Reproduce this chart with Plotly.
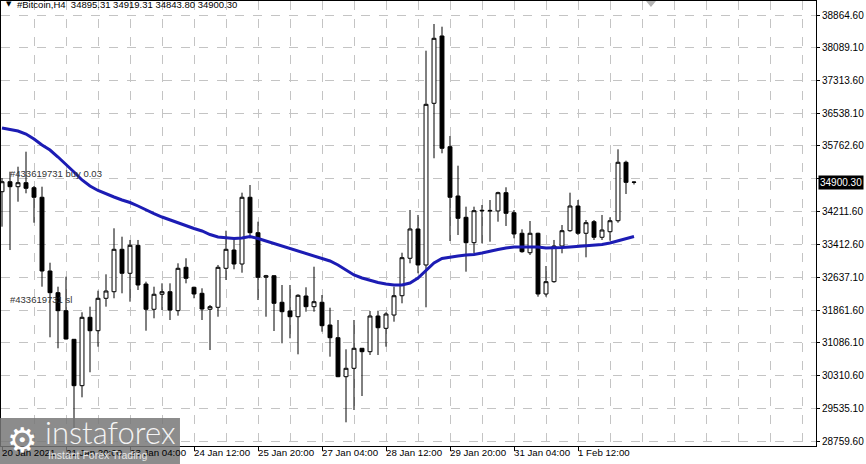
import plotly.graph_objects as go

# ---------------- data (H4 bars, index 0 = 20 Jan 2021 12:00) ----------------
bars = list(range(80))

opens = [34673, 34910, 34792, 34887, 34768, 34541, 32792, 32278, 31851, 31172,
         30072, 31694, 31376, 32145, 32301, 33307, 32738, 33402, 32484, 31884,
         32240, 32301, 31851, 32880, 32406, 32263, 31884, 31931, 32856, 33290,
         32958, 34541, 33701, 32643, 32680, 32050, 31844, 31708, 32199, 31946,
         32050, 31511, 31210, 30285, 30484, 30959, 30878, 31725, 31433, 31748,
         32206, 33094, 33789, 32935, 36770, 38367, 35741, 34571, 34066, 33464,
         34215, 34230, 34216, 34650, 34175, 33687, 33226, 33687, 32247, 32539,
         33385, 33748, 34334, 33687, 33962, 33592, 33724, 33985, 35371, 34895.31]

highs = [34998, 35148, 35266, 35622, 34808, 34792, 32989, 32420, 32657, 31179,
         31813, 31946, 32325, 32714, 33805, 33606, 33528, 33528, 32539, 32420,
         32500, 32500, 32975, 33094, 32420, 32382, 31986, 32935, 33748, 33528,
         34650, 34832, 33962, 32700, 32690, 32460, 32460, 32240, 32406, 32894,
         32223, 31922, 31630, 30935, 31630, 30965, 31844, 31851, 31813, 32420,
         33226, 34239, 34121, 38018, 38651, 38587, 35995, 35290, 34318, 34318,
         34358, 34476, 34673, 34778, 34239, 33781, 33978, 33700, 32911, 33528,
         33883, 34650, 34476, 34002, 34002, 34121, 34066, 35679, 35409, 34919.31]

lows = [33843, 33290, 34436, 34635, 33938, 32420, 31220, 30959, 31170, 29021,
        29796, 30390, 30997, 31946, 32145, 32263, 32064, 32342, 31376, 31670,
        31867, 31630, 31732, 32500, 32145, 31630, 30918, 31708, 32579, 32833,
        32752, 33568, 32104, 31708, 31369, 31077, 31196, 30816, 31827, 31827,
        31352, 30760, 30275, 29203, 29495, 29827, 30800, 30800, 30997, 31590,
        32026, 32975, 32738, 31931, 35466, 35584, 33504, 33646, 32776, 33212,
        33449, 33487, 33962, 33860, 33568, 33226, 33172, 32183, 32183, 32515,
        33212, 33724, 33646, 33117, 33528, 33528, 33511, 33938, 34619, 34843.80]

closes = [34910, 34792, 34887, 34754, 34541, 32792, 32278, 31851, 31179, 30072,
          31694, 31376, 32145, 32318, 33307, 32738, 33402, 32460, 31884, 32240,
          32301, 31867, 32856, 32619, 32247, 31891, 31946, 32880, 33307, 32958,
          34541, 33701, 32643, 32680, 32026, 31827, 31708, 32216, 31946, 32064,
          31495, 31210, 30285, 30484, 30959, 30878, 31725, 31447, 31772, 32206,
          33108, 33789, 32935, 36746, 38312, 35703, 34541, 34042, 33464, 34223,
          34230, 34220, 34650, 34161, 33670, 33250, 33687, 32247, 32539, 33385,
          33748, 34334, 33687, 33938, 33592, 33765, 33985, 35371, 34895.31, 34900.30]

ma = [36184, 36149, 36113, 36042, 35923, 35781, 35662, 35496, 35330, 35141,
      34951, 34808, 34702, 34619, 34548, 34476, 34417, 34334, 34239, 34156,
      34073, 34002, 33931, 33860, 33800, 33741, 33658, 33599, 33575, 33563,
      33575, 33611, 33563, 33504, 33456, 33397, 33326, 33267, 33207, 33148,
      33089, 33030, 32935, 32816, 32697, 32626, 32567, 32520, 32484, 32460,
      32460, 32508, 32626, 32816, 32982, 33089, 33124, 33148, 33172, 33184,
      33219, 33267, 33302, 33338, 33362, 33362, 33362, 33362, 33338, 33338,
      33350, 33362, 33373, 33385, 33409, 33421, 33456, 33504, 33551, 33611]

x_tick_bars = [0, 8, 16, 24, 32, 40, 48, 56, 64, 72]
x_tick_labels = ["20 Jan 2021", "21 Jan 20:00", "23 Jan 04:00", "24 Jan 12:00",
                 "25 Jan 20:00", "27 Jan 04:00", "28 Jan 12:00", "29 Jan 20:00",
                 "31 Jan 04:00", "1 Feb 12:00"]

y_tick_vals = [38864.60, 38089.10, 37313.60, 36538.10, 35762.60, 34987.10,
               34211.60, 33412.60, 32637.10, 31861.60, 31086.10, 30310.60,
               29535.10, 28759.60]
y_tick_text = ["38864.60", "38089.10", "37313.60", "36538.10", "35762.60", "",
               "34211.60", "33412.60", "32637.10", "31861.60", "31086.10", "30310.60",
               "29535.10", "28759.60"]

bid_price = 34900.30
buy_line = 34930
sl_line = 31940
header = "#Bitcoin,H4  34895.31 34919.31 34843.80 34900.30"

FONT = "Liberation Sans, Arial, sans-serif"

fig = go.Figure()
fig.add_trace(go.Candlestick(
    x=bars, open=opens, high=highs, low=lows, close=closes,
    increasing=dict(fillcolor="white", line=dict(color="black", width=1)),
    decreasing=dict(fillcolor="black", line=dict(color="black", width=1)),
    whiskerwidth=0, showlegend=False, hoverinfo="skip",
))
fig.add_trace(go.Scatter(
    x=bars, y=ma, mode="lines", line=dict(color="#1c1cb4", width=3),
    showlegend=False, hoverinfo="skip",
))

# order lines
fig.add_shape(type="line", xref="paper", x0=0, x1=1, yref="y", y0=buy_line, y1=buy_line,
              line=dict(color="#7f9a7f", width=1.5, dash="dashdot"), layer="between")
fig.add_shape(type="line", xref="paper", x0=0, x1=1, yref="y", y0=sl_line, y1=sl_line,
              line=dict(color="#d0a070", width=1.5, dash="dashdot"), layer="between")

ann = []
ann.append(dict(xref="paper", yref="y", x=0.0086, y=buy_line, xanchor="left", yanchor="bottom",
                yshift=0, text="#433619731 buy 0.03", showarrow=False,
                font=dict(family=FONT, size=9.5, color="#333333")))
ann.append(dict(xref="paper", yref="y", x=0.0086, y=sl_line, xanchor="left", yanchor="bottom",
                yshift=0, text="#433619731 sl", showarrow=False,
                font=dict(family=FONT, size=9.5, color="#333333")))
# bid label
ann.append(dict(xref="paper", yref="y", x=1, y=bid_price, xanchor="left", yanchor="middle",
                xshift=2, text=f"{bid_price:.2f}", showarrow=False, bgcolor="black",
                borderpad=1, font=dict(family=FONT, size=10, color="white")))
# header
ann.append(dict(xref="paper", yref="paper", x=0.004, y=0.993, xanchor="left", yanchor="middle",
                text="▼", showarrow=False, font=dict(family="DejaVu Sans", size=7, color="black")))
ann.append(dict(xref="paper", yref="paper", x=0.017, y=0.993, xanchor="left", yanchor="middle",
                text=header, showarrow=False, font=dict(family=FONT, size=9.5, color="black")))
# x labels
for b, t in zip(x_tick_bars, x_tick_labels):
    ann.append(dict(xref="x", yref="paper", x=b, y=-0.0157, xanchor="left", yanchor="middle",
                    xshift=-2, text=t, showarrow=False,
                    font=dict(family=FONT, size=9.7, color="black")))

# logo overlay
logo_shapes = [
    dict(type="rect", xref="paper", yref="paper", x0=-0.003, x1=0.2196, y0=-0.045, y1=0.0629,
         fillcolor="rgba(120,120,120,0.85)", line=dict(width=0), layer="above"),
    dict(type="path", xref="paper", yref="paper",
         path="M 0.7914 1.0 L 0.8037 1.0 L 0.7975 0.9865 Z",
         fillcolor="#b4b4b4", line=dict(width=0), layer="above"),
]
ann.append(dict(xref="paper", yref="paper", x=0.0258, y=0.0135, xanchor="center", yanchor="middle",
                text="⚙", showarrow=False, font=dict(family="DejaVu Sans", size=34, color="white")))
ann.append(dict(xref="paper", yref="paper", x=0.1337, y=0.0315, xanchor="center", yanchor="middle",
                text="instaforex", showarrow=False,
                font=dict(family="Lato, Open Sans, sans-serif", size=31, color="#f4f4f4", weight=300)))
ann.append(dict(xref="paper", yref="paper", x=0.1178, y=-0.0202, xanchor="center", yanchor="middle",
                text="Instant Forex Trading", showarrow=False,
                font=dict(family=FONT, size=10.5, color="#e6e6e6")))

fig.update_layout(
    width=866, height=464,
    margin=dict(l=1, r=50, t=1, b=18),
    paper_bgcolor="white", plot_bgcolor="white",
    showlegend=False,
    annotations=ann,
    shapes=logo_shapes,
    xaxis=dict(
        range=[-0.125, 101.75], rangeslider=dict(visible=False),
        tickvals=x_tick_bars, ticktext=[""] * len(x_tick_bars), showticklabels=False,
        ticks="outside", ticklen=4, tickcolor="black",
        showgrid=True, gridcolor="#c4c4c4", griddash="dash", gridwidth=1,
        minor=dict(tickvals=list(range(0, 104, 4)), showgrid=True, gridcolor="#c4c4c4",
                   griddash="dash", ticks=""),
        showline=True, linecolor="black", linewidth=1, mirror=True, zeroline=False,
    ),
    yaxis=dict(
        side="right", range=[28641.3, 39196.7], automargin=False,
        tickvals=y_tick_vals, ticktext=y_tick_text,
        ticks="outside", ticklen=3, tickcolor="black",
        tickfont=dict(family=FONT, size=10, color="black"),
        showgrid=True, gridcolor="#c4c4c4", griddash="dash", gridwidth=1,
        showline=True, linecolor="black", linewidth=1, mirror=True, zeroline=False,
    ),
)

fig.write_html(
    "out.html",
    config={"displayModeBar": False},
    post_script="document.body.style.margin='0';document.body.style.overflow='hidden';",
)
